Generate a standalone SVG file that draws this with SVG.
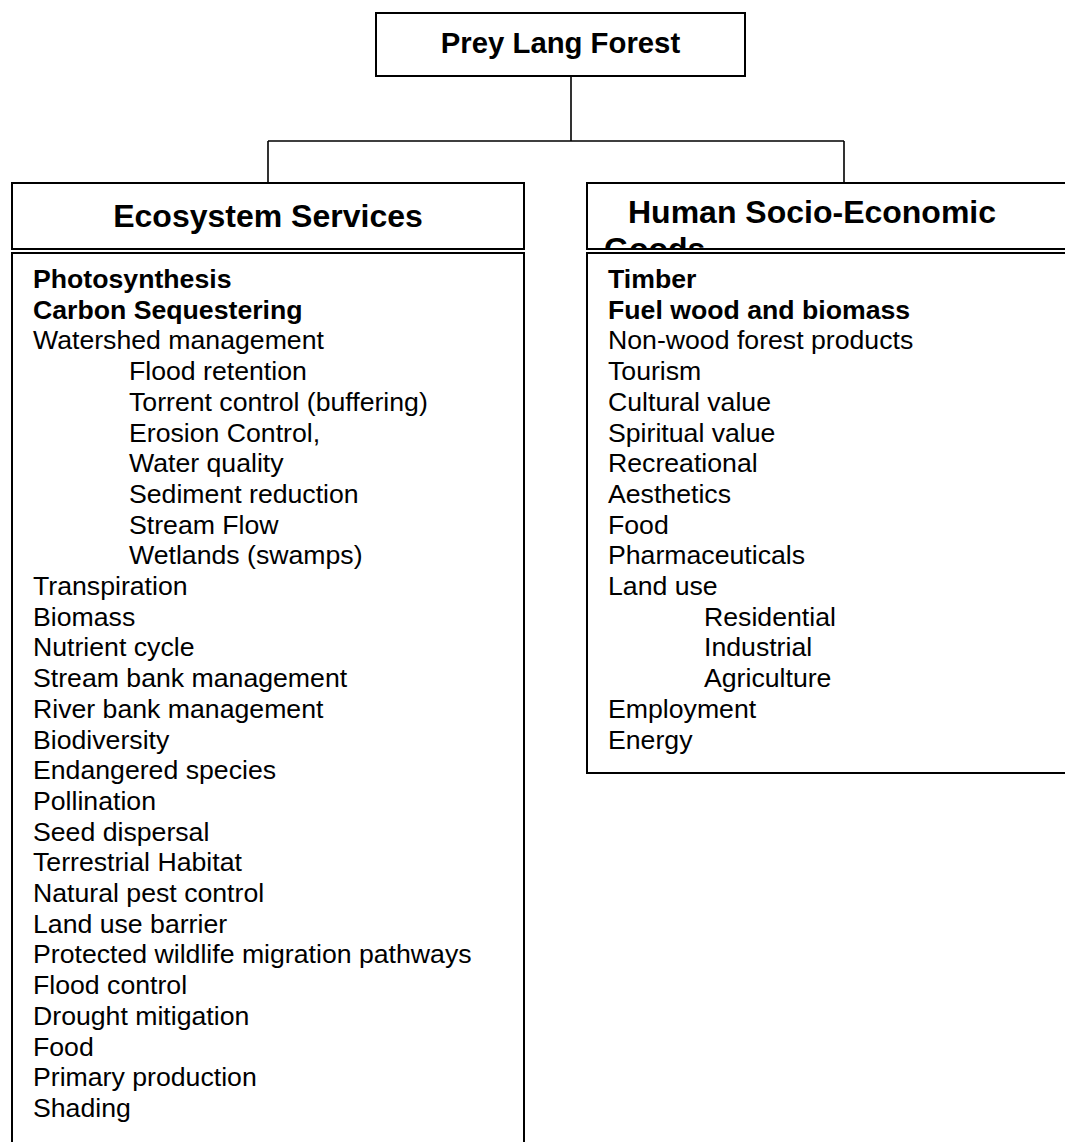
<svg xmlns="http://www.w3.org/2000/svg" width="1065" height="1142" viewBox="0 0 1065 1142">
<style>
.box{fill:#fff;stroke:#000;stroke-width:2}
.conn{fill:none;stroke:#000;stroke-width:1.6}
.h{font-family:"Liberation Sans",Arial,sans-serif;font-weight:bold;font-size:32px;fill:#000}
.ttl{font-family:"Liberation Sans",Arial,sans-serif;font-weight:bold;font-size:29.3px;fill:#000}
.t{font-family:"Liberation Sans",Arial,sans-serif;font-size:26.67px;fill:#000}
.b{font-weight:bold}
</style>
<defs>
<clipPath id="clipHum"><rect x="588" y="184" width="480" height="64"/></clipPath>
</defs>
<rect width="1065" height="1142" fill="#fff"/>
<g id="connectors">
<path class="conn" d="M571,76 V141 M268,141 H844 M268,141 V183 M844,141 V183"/>
</g>
<g id="prey-lang-forest">
<rect class="box" x="376" y="13" width="369" height="63"/>
<text class="ttl" x="560.5" y="53" text-anchor="middle">Prey Lang Forest</text>
</g>
<g id="ecosystem-services">
<rect class="box" x="12" y="183" width="512" height="66"/>
<text class="h" x="268" y="227" text-anchor="middle">Ecosystem Services</text>
</g>
<g id="ecosystem-list">
<rect class="box" x="12" y="253" width="512" height="920"/>
<text class="t b" x="33" y="288">Photosynthesis</text>
<text class="t b" x="33" y="318.7">Carbon Sequestering</text>
<text class="t" x="33" y="349.4">Watershed management</text>
<text class="t" x="129" y="380.1">Flood retention</text>
<text class="t" x="129" y="410.8">Torrent control (buffering)</text>
<text class="t" x="129" y="441.5">Erosion Control,</text>
<text class="t" x="129" y="472.2">Water quality</text>
<text class="t" x="129" y="502.9">Sediment reduction</text>
<text class="t" x="129" y="533.6">Stream Flow</text>
<text class="t" x="129" y="564.3">Wetlands (swamps)</text>
<text class="t" x="33" y="595">Transpiration</text>
<text class="t" x="33" y="625.7">Biomass</text>
<text class="t" x="33" y="656.4">Nutrient cycle</text>
<text class="t" x="33" y="687.1">Stream bank management</text>
<text class="t" x="33" y="717.8">River bank management</text>
<text class="t" x="33" y="748.5">Biodiversity</text>
<text class="t" x="33" y="779.2">Endangered species</text>
<text class="t" x="33" y="809.9">Pollination</text>
<text class="t" x="33" y="840.6">Seed dispersal</text>
<text class="t" x="33" y="871.3">Terrestrial Habitat</text>
<text class="t" x="33" y="902">Natural pest control</text>
<text class="t" x="33" y="932.7">Land use barrier</text>
<text class="t" x="33" y="963.4">Protected wildlife migration pathways</text>
<text class="t" x="33" y="994.1">Flood control</text>
<text class="t" x="33" y="1024.8">Drought mitigation</text>
<text class="t" x="33" y="1055.5">Food</text>
<text class="t" x="33" y="1086.2">Primary production</text>
<text class="t" x="33" y="1116.9">Shading</text>
</g>
<g id="human-socio-economic">
<rect class="box" x="587" y="183" width="520" height="66"/>
<g clip-path="url(#clipHum)">
<text class="h" x="628" y="223">Human Socio-Economic</text>
<text class="h" x="604" y="260">Goods</text>
</g>
</g>
<g id="human-list">
<rect class="box" x="587" y="253" width="520" height="520"/>
<text class="t b" x="608" y="288">Timber</text>
<text class="t b" x="608" y="318.7">Fuel wood and biomass</text>
<text class="t" x="608" y="349.4">Non-wood forest products</text>
<text class="t" x="608" y="380.1">Tourism</text>
<text class="t" x="608" y="410.8">Cultural value</text>
<text class="t" x="608" y="441.5">Spiritual value</text>
<text class="t" x="608" y="472.2">Recreational</text>
<text class="t" x="608" y="502.9">Aesthetics</text>
<text class="t" x="608" y="533.6">Food</text>
<text class="t" x="608" y="564.3">Pharmaceuticals</text>
<text class="t" x="608" y="595">Land use</text>
<text class="t" x="704" y="625.7">Residential</text>
<text class="t" x="704" y="656.4">Industrial</text>
<text class="t" x="704" y="687.1">Agriculture</text>
<text class="t" x="608" y="717.8">Employment</text>
<text class="t" x="608" y="748.5">Energy</text>
</g>
</svg>
